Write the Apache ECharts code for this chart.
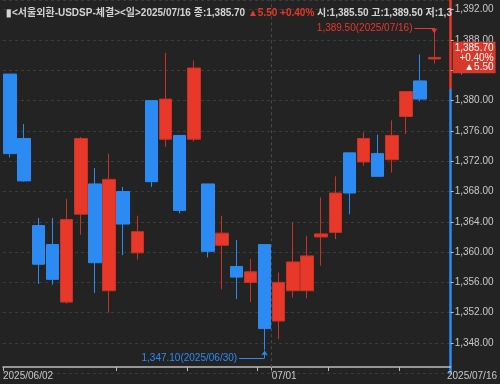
<!DOCTYPE html>
<html>
<head>
<meta charset="utf-8">
<script src="https://cdn.jsdelivr.net/npm/echarts@6/dist/echarts.min.js"></script>
<style>html,body{margin:0;padding:0;background:#232323;}#c{width:500px;height:384px;}</style>
</head>
<body>
<div id="c"></div>
<script>
// ---- data ----
const dates = ['2025/06/02','2025/06/04','2025/06/05','2025/06/09','2025/06/10','2025/06/11','2025/06/12','2025/06/13',
  '2025/06/16','2025/06/17','2025/06/18','2025/06/19','2025/06/20','2025/06/23','2025/06/24','2025/06/25','2025/06/26',
  '2025/06/27','2025/06/30','2025/07/01','2025/07/02','2025/07/03','2025/07/04','2025/07/07','2025/07/08','2025/07/09',
  '2025/07/10','2025/07/11','2025/07/14','2025/07/15','2025/07/16'];
const opens  = [1383.5,1375.0,1363.5,1361.0,1353.4,1365.0,1369.0,1354.9,1368.0,1359.9,1380.0,1374.9,1375.4,1374.9,1369.0,1360.9,
  1358.1,1356.0,1361.0,1350.9,1354.9,1354.9,1362.0,1362.6,1373.1,1371.9,1373.0,1372.2,1377.9,1382.6,1385.5];
const closes = [1373.0,1369.4,1358.4,1356.4,1364.3,1375.0,1358.6,1369.6,1363.7,1362.7,1369.3,1380.2,1365.5,1384.3,1360.1,1362.5,
  1356.7,1357.4,1349.9,1356.0,1358.7,1359.5,1362.4,1367.8,1367.8,1375.0,1370.0,1375.4,1381.2,1380.2,1385.7];
const lows   = [1372.5,1369.3,1355.8,1355.7,1353.2,1362.3,1354.6,1352.0,1359.6,1359.0,1368.6,1373.9,1365.1,1374.6,1359.3,1355.1,
  1353.8,1353.4,1347.1,1348.5,1354.0,1353.9,1358.2,1361.7,1365.0,1371.4,1370.0,1370.5,1375.6,1379.9,1384.9];
const highs  = [1383.5,1376.9,1364.5,1364.5,1367.0,1375.2,1371.1,1373.0,1368.6,1364.8,1380.0,1386.3,1375.4,1385.3,1369.0,1364.8,
  1361.6,1359.1,1361.0,1357.3,1363.9,1362.1,1367.2,1370.0,1373.1,1375.8,1375.5,1377.4,1381.2,1386.1,1389.5];
const tickDates  = ['2025/06/02','2025/06/16','2025/06/23','2025/06/30','2025/07/01','2025/07/07','2025/07/14'];
const labelDates = ['2025/06/02','2025/07/01','2025/07/16'];
const labelTexts = ['2025/06/02','07/01','2025/07/16'];
const monthStart = '2025/07/01';
const axisSplitValue = 1381.4;

// ---- helpers ----
const n = dates.length;
const fmt = v => v.toLocaleString('en-US', {minimumFractionDigits: 2, maximumFractionDigits: 2});
const candleData = dates.map((d, i) => [i, opens[i], closes[i], lows[i], highs[i]]);
const last = n - 1;
const chg = closes[last] - closes[last - 1];
const pct = chg / closes[last - 1] * 100;
let hiIdx = 0, loIdx = 0;
highs.forEach((v, i) => { if (v > highs[hiIdx]) hiIdx = i; });
lows.forEach((v, i) => { if (v < lows[loIdx]) loIdx = i; });
const hiVal = highs[hiIdx], loVal = lows[loIdx];

const RED = '#e8382a', BLUE = '#2b8bf2', TXT = '#c8c8c8';
const FONT = "'Liberation Sans','Noto Sans CJK KR',sans-serif";
const FS = 10;
const yMin = 1344, yMax = 1393.28;
const xMin = -0.5, xMax = n + 0.16;
const tickVals = tickDates.map(d => dates.indexOf(d) - 0.5);
const labelVals = labelDates.map((d, k) => k === labelDates.length - 1 ? dates.indexOf(d) + 0.9 : dates.indexOf(d) - 0.5);
const splitOff = (yMax - axisSplitValue) / (yMax - yMin);

const chart = echarts.init(document.getElementById('c'));
chart.setOption({
  backgroundColor: '#232323',
  animation: false,
  title: {
    text: `{w|▮<서울외환-USDSP-체결><일>${dates[last]} 종:${fmt(closes[last])} }{r|▲${fmt(chg)} +${pct.toFixed(2)}%}{w| 시:${fmt(opens[last])} 고:${fmt(highs[last])} 저:${fmt(lows[last])}}`,
    left: 1, top: 3,
    textStyle: {
      width: 452, overflow: 'truncate', ellipsis: '',
      rich: {
        w: {color: '#d4d4d4', fontSize: FS, fontFamily: FONT},
        r: {color: RED, fontSize: FS, fontFamily: FONT}
      }
    }
  },
  grid: {left: 0, right: 45, top: 0, bottom: 10.7, containLabel: false},
  xAxis: {
    type: 'value', min: xMin, max: xMax, offset: -6.3,
    axisLine: {show: true, onZero: false, lineStyle: {color: '#bdbdbd', width: 1.5}},
    axisTick: {show: true, length: 4, customValues: tickVals, lineStyle: {color: '#bdbdbd'}},
    axisLabel: {
      customValues: labelVals, align: 'left', margin: 4, color: TXT, fontSize: FS, fontFamily: FONT,
      formatter: v => {
        let k = 0;
        labelVals.forEach((lv, j) => { if (Math.abs(lv - v) < Math.abs(labelVals[k] - v)) k = j; });
        return labelTexts[k];
      }
    },
    splitLine: {show: false}
  },
  yAxis: {
    type: 'value', position: 'right', min: yMin, max: yMax, interval: 4,
    axisLine: {show: true, onZero: false, lineStyle: {width: 2.5,
      color: new echarts.graphic.LinearGradient(0, 0, 0, 1, [
        {offset: 0, color: RED}, {offset: splitOff, color: RED},
        {offset: splitOff, color: BLUE}, {offset: 1, color: BLUE}])}},
    axisTick: {show: true, length: 3, lineStyle: {color: '#bdbdbd'}},
    axisLabel: {color: TXT, fontSize: FS, fontFamily: FONT, margin: 4, showMinLabel: false, showMaxLabel: false,
      formatter: v => fmt(v)},
    splitLine: {show: true, lineStyle: {color: '#3b3b3b', type: [3, 3], width: 1}}
  },
  series: [{
    type: 'candlestick',
    data: candleData,
    encode: {x: 0, y: [1, 2, 3, 4]},
    barWidth: 13,
    itemStyle: {color: RED, color0: BLUE, borderColor: '#c93325', borderColor0: BLUE, borderWidth: 1},
    markLine: {
      silent: true, symbol: ['none', 'none'], symbolSize: 6, animation: false,
      data: [
        {xAxis: dates.indexOf(monthStart) - 0.5, lineStyle: {color: '#4a4a4a', type: [3, 3], width: 1}, label: {show: false}},
        {yAxis: closes[last], lineStyle: {color: 'rgba(0,0,0,0)', width: 0},
          label: {show: true, position: 'end', distance: 2, backgroundColor: '#d8392b', padding: [2, 2, 1, 2],
            formatter: `{r|${fmt(closes[last])}}\n{r|+${pct.toFixed(2)}%}\n{r|▲${fmt(chg)}}`,
            rich: {r: {align: 'right', color: '#ffffff', fontSize: FS, lineHeight: 9.5, fontFamily: FONT}}}},
        [{coord: [hiIdx - 1.4, hiVal + 0.1], lineStyle: {color: RED, width: 1, type: 'solid'},
          label: {show: true, position: 'start', distance: 2, color: RED, fontSize: FS, fontFamily: FONT,
            formatter: `${fmt(hiVal)}(${dates[hiIdx]})`}},
         {coord: [hiIdx, hiVal + 0.1]}],
        [{coord: [hiIdx, hiVal + 0.1], lineStyle: {color: RED, width: 1, type: 'solid'}, label: {show: false}},
         {coord: [hiIdx, hiVal - 0.6], symbol: 'arrow', symbolSize: 5}],
        [{coord: [loIdx - 1.8, loVal - 1.08], lineStyle: {color: BLUE, width: 1, type: 'solid'},
          label: {show: true, position: 'start', distance: 2, color: BLUE, fontSize: FS, fontFamily: FONT,
            formatter: `${fmt(loVal)}(${dates[loIdx]})`}},
         {coord: [loIdx, loVal - 1.08]}],
        [{coord: [loIdx, loVal - 1.08], lineStyle: {color: BLUE, width: 1, type: 'solid'}, label: {show: false}},
         {coord: [loIdx, loVal - 0.1], symbol: 'arrow', symbolSize: 5}]
      ]
    }
  }]
});
</script>
</body>
</html>
